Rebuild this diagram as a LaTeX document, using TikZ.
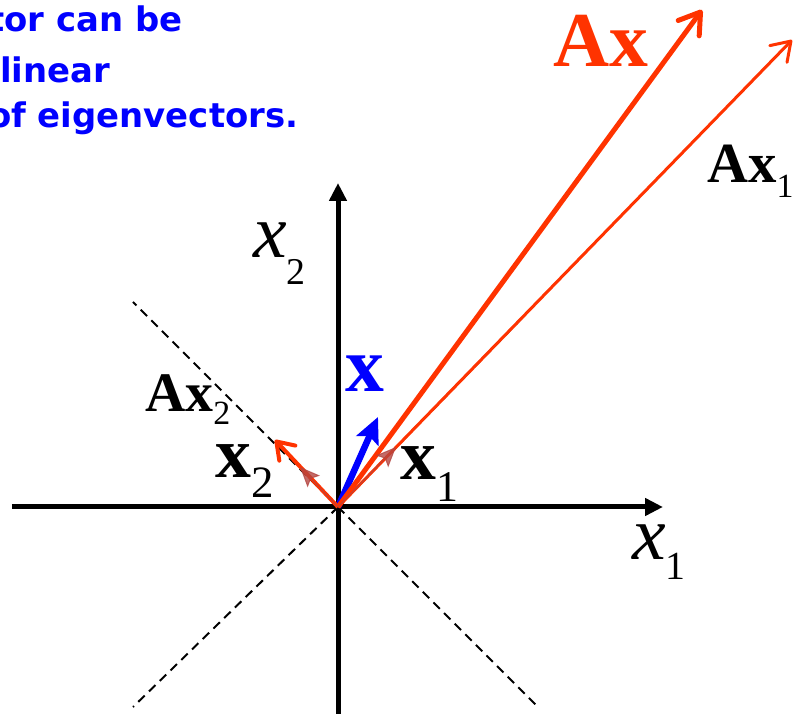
\documentclass[tikz,border=0pt]{standalone}
\usepackage{fontspec}
\setmainfont{Liberation Serif}
\newfontfamily\notefont{DejaVu Sans}
\usetikzlibrary{arrows.meta}
\definecolor{vecred}{RGB}{255,51,0}
\definecolor{eigred}{RGB}{180,70,65}
\definecolor{vecblue}{RGB}{0,0,255}

\begin{document}
\begin{tikzpicture}[
  x=1bp, y=1bp,
  axis/.style={line width=5bp, -{Triangle[length=18bp,width=17bp]}},
  guide/.style={line width=2bp, dash pattern=on 9bp off 6bp},
  bigvec/.style={draw=vecred, line width=5bp, -{Straight Barb[round,length=20bp,width=26bp]}},
  midvec/.style={draw=vecred, line width=3bp, -{Straight Barb[round,length=18bp,width=24bp]}},
  smallvec/.style={draw=vecred, line width=4bp, -{Straight Barb[round,length=16bp,width=22bp]}},
  eigvec/.style={draw=eigred, fill=eigred, opacity=0.8, line width=1bp, -{Stealth[length=20bp,width=17bp,inset=4bp]}},
  xvec/.style={draw=vecblue, fill=vecblue, line width=6.5bp, -{Stealth[length=26bp,width=24bp,inset=5bp]}},
  lab/.style={inner sep=0pt, anchor=base west},
  note/.style={lab, text=vecblue, font=\notefont\fontsize{34}{36}\selectfont\bfseries},
]
\useasboundingbox (-338,-207) rectangle (470,507);

\coordinate (O) at (0,0);
\coordinate (ul) at (-205,205);
\coordinate (ur) at (184,189);
\coordinate (ll) at (-205,-200);
\coordinate (lr) at (200,-200);
\coordinate (xl) at (-326,0);
\coordinate (xr) at (325,0);
\coordinate (yb) at (0,-207);
\coordinate (yt) at (0,324);
\coordinate (ax) at (364,497);
\coordinate (ax1) at (454,467);
\coordinate (ax2) at (-63,67);
\coordinate (x) at (40,90);
\coordinate (x1) at (58,60);
\coordinate (x2) at (-38,40);

\draw[guide] (O) -- (ul);
\draw[guide] (O) -- (ur);
\draw[guide] (O) -- (ll);
\draw[guide] (O) -- (lr);

\draw[axis] (xl) -- (xr);
\draw[axis] (yb) -- (yt);

\draw[xvec] (O) -- (x);
\draw[bigvec] (O) -- (ax);
\draw[midvec] (O) -- (ax1);
\draw[smallvec] (O) -- (ax2);
\draw[eigvec] (O) -- (x1);
\draw[eigvec] (O) -- (x2);

\node[lab, text=vecred, font=\fontsize{78}{80}\selectfont\bfseries] (axlab) at (215,440) {Ax};
\node[lab, font=\fontsize{57}{60}\selectfont\bfseries] (ax1lab) at (369,324)
  {Ax\raisebox{-15bp}{\fontsize{34}{34}\selectfont\mdseries 1}};
\node[lab, font=\fontsize{56}{60}\selectfont\bfseries] (ax2lab) at (-193,95)
  {Ax\raisebox{-13bp}{\fontsize{34}{34}\selectfont\mdseries 2}};
\node[lab, font=\fontsize{72}{74}\selectfont\bfseries] (x2lab) at (-123,29)
  {x\raisebox{-20bp}{\fontsize{45}{45}\selectfont\mdseries 2}};
\node[lab, font=\fontsize{72}{74}\selectfont\bfseries] (x1lab) at (62,27)
  {x\raisebox{-22bp}{\fontsize{44}{44}\selectfont\mdseries 1}};
\node[lab, text=vecblue, font=\fontsize{78}{80}\selectfont\bfseries] (xlab) at (7,115) {x};
\node[lab, font=\fontsize{76}{78}\selectfont\itshape] (e1lab) at (294,-53)
  {x\raisebox{-20bp}{\fontsize{40}{40}\selectfont\upshape 1}};
\node[lab, font=\fontsize{76}{78}\selectfont\itshape] (e2lab) at (-85,249)
  {x\raisebox{-27bp}{\fontsize{38}{38}\selectfont\upshape 2}};

\node[note] (line1) at (-350,475) {tor can be};
\node[note] (line2) at (-338,424) {linear};
\node[note] (line3) at (-350,379) {of eigenvectors.};

\end{tikzpicture}
\end{document}
